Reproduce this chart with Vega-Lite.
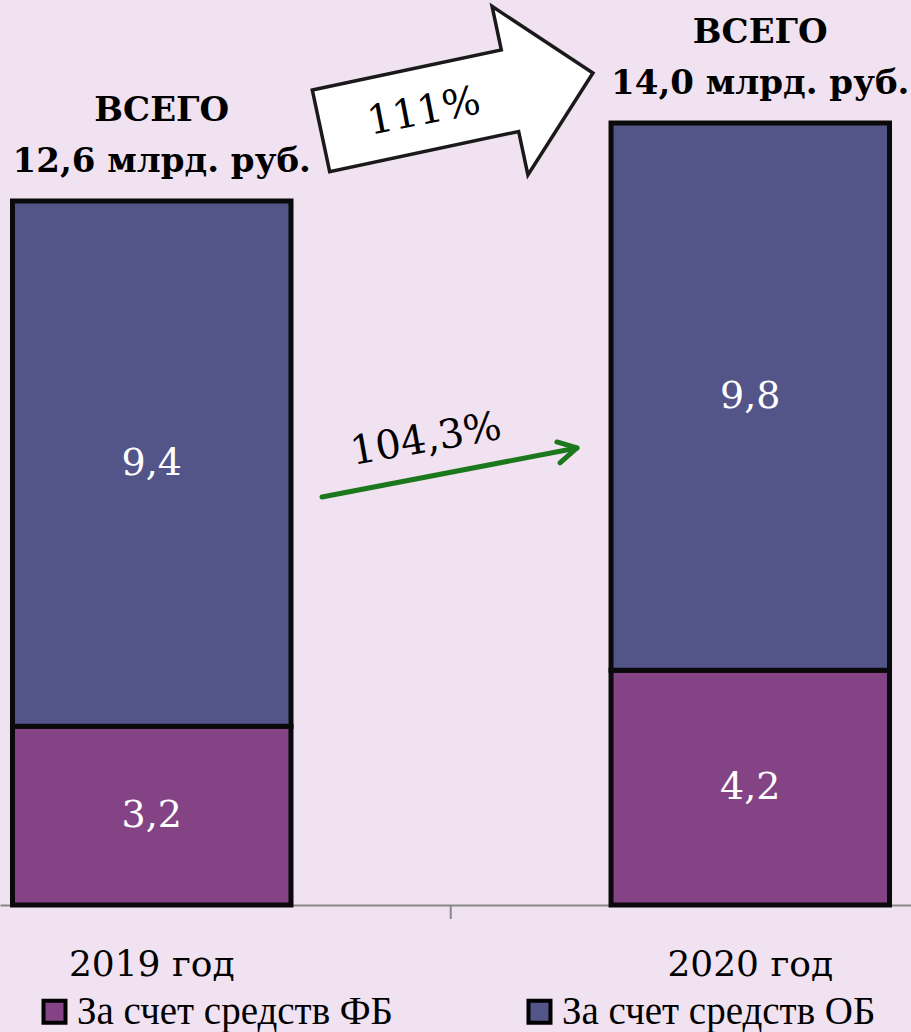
{
  "$schema": "https://vega.github.io/schema/vega-lite/v6.json",
  "width": 911,
  "height": 905,
  "autosize": {"type": "none"},
  "padding": {"left": 0, "top": 0, "right": 0, "bottom": 127},
  "background": "#F0E2F0",
  "config": {"view": {"stroke": null}, "font": "DejaVu Serif"},
  "datasets": {
    "bars": [
      {"year": "2019 год", "src": "За счет средств ФБ", "value": 3.2, "ord": 1, "label": "3,2"},
      {"year": "2019 год", "src": "За счет средств ОБ", "value": 9.4, "ord": 2, "label": "9,4"},
      {"year": "2020 год", "src": "За счет средств ФБ", "value": 4.2, "ord": 1, "label": "4,2"},
      {"year": "2020 год", "src": "За счет средств ОБ", "value": 9.8, "ord": 2, "label": "9,8"}
    ],
    "totals": [
      {"year": "2019 год", "total": 12.6, "label": "ВСЕГО\n12,6 млрд. руб."},
      {"year": "2020 год", "total": 14.0, "label": "ВСЕГО\n14,0 млрд. руб."}
    ],
    "bigArrow": [{"t": 0.5104, "v": 14.375}],
    "bigLabel": [{"t": 0.4553, "v": 14.196, "label": "111%"}],
    "greenLabel": [{"t": 0.4586, "v": 8.325, "label": "104,3%"}],
    "green": [
      {"seg": "shaft", "o": 1, "t": 0.2849, "v": 7.304},
      {"seg": "shaft", "o": 2, "t": 0.7109, "v": 8.181},
      {"seg": "head", "o": 1, "t": 0.6774, "v": 8.289},
      {"seg": "head", "o": 2, "t": 0.7109, "v": 8.181},
      {"seg": "head", "o": 3, "t": 0.6825, "v": 7.913}
    ],
    "tick": [{"t": 0.5, "v": 0, "v2": -0.25}]
  },
  "resolve": {"scale": {"x": "independent"}, "axis": {"x": "independent"}},
  "layer": [
    {
      "data": {"name": "bars"},
      "mark": {"type": "bar", "stroke": "#0a0a0a", "strokeWidth": 5, "strokeJoin": "miter"},
      "encoding": {
        "x": {
          "field": "year", "type": "nominal",
          "scale": {"type": "band", "paddingInner": 0.5347, "paddingOuter": 0.0284, "align": 0.368},
          "axis": {"title": null, "ticks": false, "labelFontSize": 36, "labelFont": "DejaVu Serif", "labelColor": "#000000", "labelPadding": 42, "domainColor": "#878787", "domainWidth": 2, "labelAngle": 0, "grid": false}
        },
        "y": {"field": "value", "type": "quantitative", "stack": "zero", "scale": {"domain": [0, 16.2], "nice": false}, "axis": null},
        "color": {
          "field": "src", "type": "nominal",
          "scale": {"domain": ["За счет средств ФБ", "За счет средств ОБ"], "range": ["#844385", "#535589"]},
          "legend": {"title": null, "orient": "none", "legendX": 35, "legendY": 992, "direction": "horizontal", "symbolType": "square", "symbolSize": 484, "symbolStrokeColor": "#000000", "symbolStrokeWidth": 4, "labelFont": "Liberation Serif", "labelFontSize": 39, "labelColor": "#000000", "labelOffset": 3, "columnPadding": 126, "padding": 0, "labelLimit": 600}
        },
        "order": {"field": "ord", "type": "quantitative"}
      }
    },
    {
      "data": {"name": "bars"},
      "mark": {"type": "text", "color": "#FFFFFF", "fontSize": 38, "baseline": "middle", "align": "center", "font": "DejaVu Serif"},
      "encoding": {
        "x": {"field": "year", "type": "nominal", "bandPosition": 0.5, "scale": {"type": "band", "paddingInner": 0.5347, "paddingOuter": 0.0284, "align": 0.368}, "axis": null},
        "y": {"field": "value", "type": "quantitative", "stack": "zero", "bandPosition": 0.5, "scale": {"domain": [0, 16.2], "nice": false}, "axis": null},
        "detail": {"field": "src", "type": "nominal"},
        "order": {"field": "ord", "type": "quantitative"},
        "text": {"field": "label", "type": "nominal"}
      }
    },
    {
      "data": {"name": "totals"},
      "mark": {"type": "text", "fontWeight": "bold", "fontSize": 34, "font": "DejaVu Serif", "lineBreak": "\n", "lineHeight": 51, "baseline": "middle", "align": "center", "dx": 10, "dy": -90, "color": "#000000"},
      "encoding": {
        "x": {"field": "year", "type": "nominal", "bandPosition": 0.5, "scale": {"type": "band", "paddingInner": 0.5347, "paddingOuter": 0.0284, "align": 0.368}, "axis": null},
        "y": {"field": "total", "type": "quantitative", "scale": {"domain": [0, 16.2], "nice": false}, "axis": null},
        "text": {"field": "label", "type": "nominal"}
      }
    },
    {
      "data": {"name": "bigArrow"},
      "mark": {"type": "point", "shape": "M -1 -0.3 L 0.39 -0.3 L 0.39 -0.62 L 1 0 L 0.39 0.62 L 0.39 0.3 L -1 0.3 Z", "size": 77284, "angle": 348, "filled": true, "fill": "#FFFFFF", "stroke": "#1a1a1a", "strokeWidth": 3.5, "opacity": 1, "fillOpacity": 1, "strokeJoin": "miter"},
      "encoding": {
        "x": {"field": "t", "type": "quantitative", "scale": {"domain": [-0.2531, 1.2690], "nice": false, "zero": false}, "axis": null},
        "y": {"field": "v", "type": "quantitative", "scale": {"domain": [0, 16.2], "nice": false}, "axis": null}
      }
    },
    {
      "data": {"name": "bigLabel"},
      "mark": {"type": "text", "fontSize": 40, "font": "DejaVu Serif", "angle": 349, "baseline": "middle", "color": "#000000"},
      "encoding": {
        "x": {"field": "t", "type": "quantitative", "scale": {"domain": [-0.2531, 1.2690], "nice": false, "zero": false}, "axis": null},
        "y": {"field": "v", "type": "quantitative", "scale": {"domain": [0, 16.2], "nice": false}, "axis": null},
        "text": {"field": "label", "type": "nominal"}
      }
    },
    {
      "data": {"name": "green"},
      "mark": {"type": "line", "color": "#1C781C", "strokeWidth": 5, "strokeCap": "round", "strokeJoin": "round"},
      "encoding": {
        "x": {"field": "t", "type": "quantitative", "scale": {"domain": [-0.2531, 1.2690], "nice": false, "zero": false}, "axis": null},
        "y": {"field": "v", "type": "quantitative", "scale": {"domain": [0, 16.2], "nice": false}, "axis": null},
        "detail": {"field": "seg", "type": "nominal"},
        "order": {"field": "o", "type": "quantitative"}
      }
    },
    {
      "data": {"name": "greenLabel"},
      "mark": {"type": "text", "fontSize": 40, "font": "DejaVu Serif", "angle": 350, "baseline": "middle", "color": "#000000"},
      "encoding": {
        "x": {"field": "t", "type": "quantitative", "scale": {"domain": [-0.2531, 1.2690], "nice": false, "zero": false}, "axis": null},
        "y": {"field": "v", "type": "quantitative", "scale": {"domain": [0, 16.2], "nice": false}, "axis": null},
        "text": {"field": "label", "type": "nominal"}
      }
    },
    {
      "data": {"name": "tick"},
      "mark": {"type": "rule", "color": "#878787", "strokeWidth": 2},
      "encoding": {
        "x": {"field": "t", "type": "quantitative", "scale": {"domain": [-0.2531, 1.2690], "nice": false, "zero": false}, "axis": null},
        "y": {"field": "v", "type": "quantitative", "scale": {"domain": [0, 16.2], "nice": false}, "axis": null},
        "y2": {"field": "v2"}
      }
    }
  ]
}
